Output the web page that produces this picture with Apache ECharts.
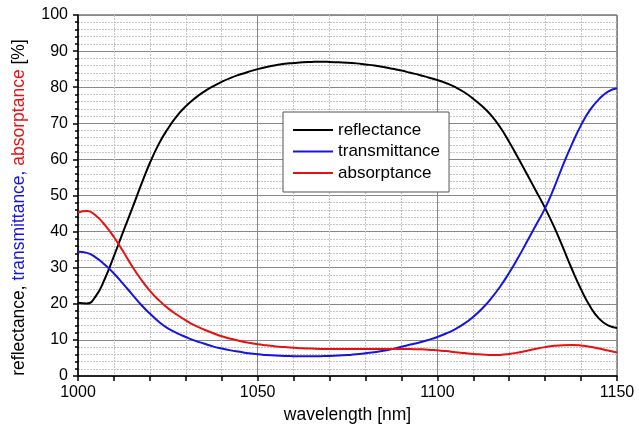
<!DOCTYPE html>
<html>
<head>
<meta charset="utf-8">
<script src="https://cdn.jsdelivr.net/npm/echarts@6/dist/echarts.min.js"></script>
<style>html,body{margin:0;padding:0;background:#fff;}#c{width:639px;height:432px;}</style>
</head>
<body>
<div id="c"></div>
<script>
// wavelength grid: 1000 to 1150 nm in 2.5 nm steps (61 points)
var wavelengths = [1000,1002.5,1005,1007.5,1010,1012.5,1015,1017.5,1020,1022.5,1025,1027.5,1030,1032.5,1035,1037.5,1040,1042.5,1045,1047.5,1050,1052.5,1055,1057.5,1060,1062.5,1065,1067.5,1070,1072.5,1075,1077.5,1080,1082.5,1085,1087.5,1090,1092.5,1095,1097.5,1100,1102.5,1105,1107.5,1110,1112.5,1115,1117.5,1120,1122.5,1125,1127.5,1130,1132.5,1135,1137.5,1140,1142.5,1145,1147.5,1150];
var reflectance = [20.3,20.1,22.2,27.0,33.2,39.8,46.2,52.8,59.0,64.3,68.5,72.0,74.7,76.9,78.7,80.2,81.5,82.6,83.5,84.3,85.0,85.6,86.1,86.5,86.7,86.9,87.0,87.05,87.0,86.9,86.8,86.6,86.3,86.0,85.6,85.1,84.6,84.0,83.4,82.7,82.0,81.1,80.0,78.6,76.8,74.7,72.2,68.9,64.8,60.4,55.8,51.2,46.5,41.3,35.5,29.5,24.0,19.3,15.9,14.0,13.3];
var transmittance = [34.4,34.1,32.8,30.8,28.4,25.6,22.7,19.8,17.3,15.0,13.2,11.9,10.8,9.8,9.0,8.2,7.6,7.1,6.7,6.3,6.0,5.8,5.65,5.55,5.5,5.45,5.45,5.5,5.55,5.65,5.8,6.0,6.3,6.6,7.0,7.5,8.1,8.7,9.3,10.0,10.8,11.8,13.0,14.5,16.4,18.7,21.5,24.8,28.6,32.8,37.3,41.9,46.5,52.2,58.5,64.3,69.5,73.7,76.7,78.8,79.7];
var absorptance = [45.3,45.7,44.4,41.8,38.5,34.6,30.5,26.8,23.6,21.0,18.8,17.0,15.4,14.0,12.9,11.9,11.0,10.3,9.7,9.2,8.8,8.5,8.2,8.0,7.85,7.7,7.6,7.5,7.5,7.5,7.5,7.5,7.5,7.5,7.5,7.5,7.5,7.45,7.4,7.3,7.1,6.9,6.6,6.35,6.1,5.95,5.8,5.85,6.1,6.5,7.0,7.55,8.0,8.35,8.55,8.6,8.45,8.1,7.6,7.05,6.5];
var seriesNames = ['reflectance','transmittance','absorptance'];
var seriesColors = ['#000000','#1515e0','#e81010'];
var xAxisName = 'wavelength [nm]';

function pairs(vals){ return wavelengths.map(function(w,i){ return [w, vals[i]]; }); }
var allVals = [reflectance, transmittance, absorptance];

var chart = echarts.init(document.getElementById('c'));
var font = 'Liberation Sans, Arial, sans-serif';
chart.setOption({
  animation: false,
  backgroundColor: '#fff',
  grid: { left: 78, right: 22, top: 15, bottom: 56, show: true, borderColor: '#333', borderWidth: 1, backgroundColor: 'transparent' },
  legend: {
    orient: 'vertical', left: 283, top: 112,
    data: seriesNames,
    icon: 'rect', itemWidth: 40, itemHeight: 2, itemGap: 3.5,
    backgroundColor: '#fff', borderColor: '#555', borderWidth: 1,
    padding: [9, 9, 10, 10],
    textStyle: { fontFamily: font, fontSize: 17, color: '#000', lineHeight: 18 }
  },
  xAxis: {
    type: 'value', min: 1000, max: 1150, interval: 50,
    name: xAxisName, nameLocation: 'middle', nameGap: 29,
    nameTextStyle: { fontFamily: font, fontSize: 17.5, color: '#000' },
    axisLine: { onZero: false, lineStyle: { color: '#000', width: 1.5 } },
    axisTick: { show: true, length: 5, lineStyle: { color: '#000', width: 1.5 } },
    minorTick: { show: true, splitNumber: 5, length: 5, lineStyle: { color: '#000', width: 1.5 } },
    axisLabel: { fontFamily: font, fontSize: 16, color: '#000', margin: 9, formatter: function(v){ return String(v); } },
    splitLine: { show: true, lineStyle: { color: '#888', width: 1 } },
    minorSplitLine: { show: true, lineStyle: { color: '#c4c4c4', width: 1, type: [2, 1] } }
  },
  yAxis: {
    type: 'value', min: 0, max: 100, interval: 10,
    name: '{k|reflectance, }{b|transmittance, }{r|absorptance }{k|[%]}',
    nameLocation: 'middle', nameGap: 50, nameRotate: 90,
    nameTextStyle: {
      fontFamily: font, fontSize: 17.5, padding: [0, 24, 0, 0],
      rich: {
        k: { color: '#000', fontFamily: font, fontSize: 17.5 },
        b: { color: '#1515e0', fontFamily: font, fontSize: 17.5 },
        r: { color: '#e81010', fontFamily: font, fontSize: 17.5 }
      }
    },
    axisLine: { show: true, lineStyle: { color: '#000', width: 1.5 } },
    axisTick: { show: true, length: 5, lineStyle: { color: '#000', width: 1.5 } },
    minorTick: { show: true, splitNumber: 5, length: 3, lineStyle: { color: '#000', width: 1.5 } },
    axisLabel: { fontFamily: font, fontSize: 16, color: '#000', margin: 10 },
    splitLine: { show: true, lineStyle: { color: '#888', width: 1 } },
    minorSplitLine: { show: true, lineStyle: { color: '#c4c4c4', width: 1, type: [2, 1] } }
  },
  series: seriesNames.map(function(n, i){
    return {
      name: n, type: 'line', data: pairs(allVals[i]), smooth: 0.5,
      showSymbol: false, symbol: 'none',
      lineStyle: { color: seriesColors[i], width: 2 },
      itemStyle: { color: seriesColors[i] }
    };
  })
});
</script>
</body>
</html>
